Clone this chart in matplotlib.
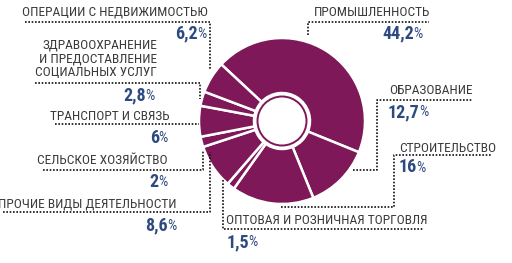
import matplotlib
matplotlib.use('Agg')
import matplotlib.pyplot as plt
from matplotlib.patches import Circle
from matplotlib import font_manager

# доли отраслей (по часовой стрелке, начиная с промышленности)
sectors = ['ПРОМЫШЛЕННОСТЬ', 'ОБРАЗОВАНИЕ', 'СТРОИТЕЛЬСТВО',
           'ОПТОВАЯ И РОЗНИЧНАЯ ТОРГОВЛЯ', 'ПРОЧИЕ ВИДЫ ДЕЯТЕЛЬНОСТИ',
           'СЕЛЬСКОЕ ХОЗЯЙСТВО', 'ТРАНСПОРТ И СВЯЗЬ',
           'ЗДРАВООХРАНЕНИЕ\nИ ПРЕДОСТАВЛЕНИЕ\nСОЦИАЛЬНЫХ УСЛУГ',
           'ОПЕРАЦИИ С НЕДВИЖИМОСТЬЮ']
shares = [44.2, 12.7, 16, 1.5, 8.6, 2, 6, 2.8, 6.2]
share_text = ['44,2', '12,7', '16', '1,5', '8,6', '2', '6', '2,8', '6,2']

MAROON = '#7e1858'
BLUE = '#2d4a80'
GREY = '#3a3a3a'

names = {f.name for f in font_manager.fontManager.ttflist}
FONT = 'DejaVu Sans'
for cand in ['Roboto Condensed', 'PT Sans Narrow', 'Fira Sans Condensed', 'Archivo Narrow']:
    if cand in names:
        FONT = cand
        break
plt.rcParams['font.family'] = [FONT, 'DejaVu Sans']

H = 263
def Y(y):
    return H - y

fig = plt.figure(figsize=(5.12, 2.63), dpi=100)
ax = fig.add_axes([0, 0, 1, 1])

ax.pie(shares, center=(282, Y(121)), radius=83, startangle=137, counterclock=False,
       colors=[MAROON] * len(shares),
       wedgeprops=dict(width=55, edgecolor='white', linewidth=1.8))
ax.add_patch(Circle((282, Y(121)), 24.5, facecolor='white', edgecolor=MAROON, lw=1.4))
ax.set_xlim(0, 512)
ax.set_ylim(0, H)
ax.set_aspect('auto')
ax.axis('off')

# позиции подписей: (x, y, выравнивание) для названия и для процента
label_pos = [(314, 12, 'left'), (389, 91, 'left'), (399, 148, 'left'),
             (226, 221, 'left'), (177, 204, 'right'), (168, 161, 'right'),
             (170, 117, 'right'), (157, 59, 'right'), (208, 12, 'right')]
pct_pos = [(423, 33, 'right'), (388, 112, 'left'), (399, 167, 'left'),
           (227, 242, 'left'), (177, 225, 'right'), (168, 182, 'right'),
           (168, 138, 'right'), (155, 95, 'right'), (207, 33, 'right')]

leaders = [
    [(308, 35), (308, 22), (429, 22)],
    [(353, 170), (377, 170), (377, 100), (473, 100)],
    [(281, 207), (394, 207), (394, 155), (491, 155)],
    [(223, 180), (223, 229), (423, 229)],
    [(3, 212), (210, 212), (210, 152)],
    [(43, 170), (203, 170), (203, 150)],
    [(55, 124), (199, 124)],
    [(35, 83), (200, 83), (200, 99)],
    [(25, 22), (210, 22), (210, 70)],
]

PCT_W = 9
for name, txt, (lx, ly, lha), (px, py, pha), path in zip(sectors, share_text, label_pos, pct_pos, leaders):
    ax.text(lx, Y(ly), name, ha=lha, va='center', fontsize=9.6, color=GREY,
            linespacing=1.1, multialignment=lha)
    if pha == 'right':
        ax.text(px - PCT_W, Y(py), txt, ha='right', va='center', fontsize=13,
                color=BLUE, fontweight='bold')
        ax.text(px - PCT_W - 1, Y(py) - 0.5, '%', ha='left', va='center',
                fontsize=10.5, color=BLUE)
    else:
        t = ax.text(px, Y(py), txt, ha='left', va='center', fontsize=13,
                    color=BLUE, fontweight='bold')
        fig.canvas.draw()
        bb = t.get_window_extent()
        xe = ax.transData.inverted().transform((bb.x1, bb.y0))[0]
        ax.text(xe - 1, Y(py) - 0.5, '%', ha='left', va='center', fontsize=10.5, color=BLUE)
    xs = [p[0] for p in path]
    ys = [Y(p[1]) for p in path]
    ax.plot(xs, ys, color='#111111', lw=1.2, linestyle=(0, (1, 1)))

fig.savefig('out.png', dpi=100, facecolor='white')
